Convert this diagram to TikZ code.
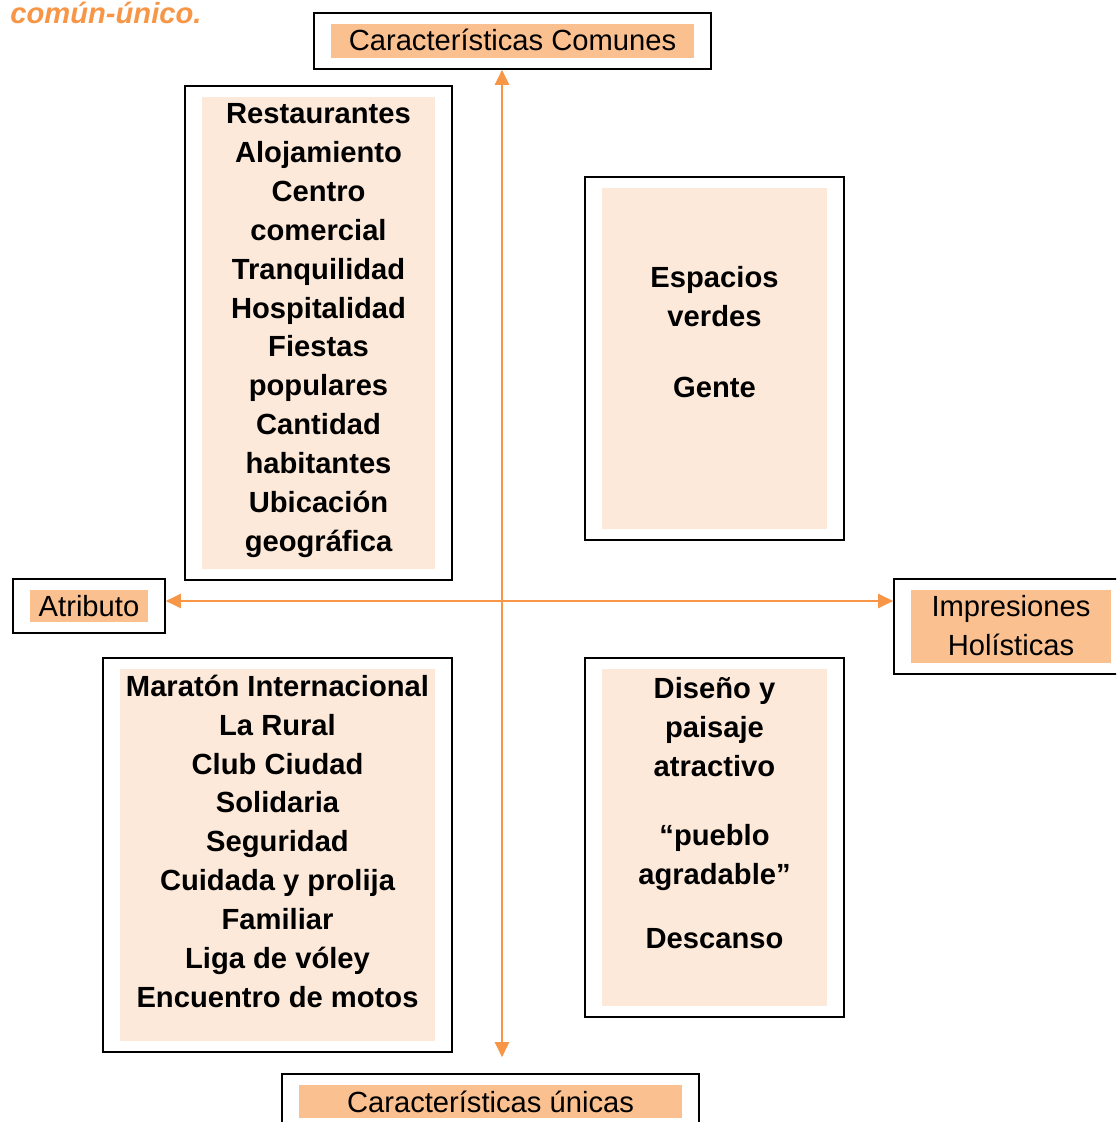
\documentclass[tikz,border=0pt]{standalone}
\usepackage{fontspec}
\setmainfont{Liberation Sans}
\usepackage{tikz}
\usetikzlibrary{arrows.meta,positioning,fit,calc}
\definecolor{tagorange}{HTML}{FAC090}
\definecolor{listpeach}{HTML}{FDE9D9}
\definecolor{axisorange}{HTML}{F79646}

\tikzset{
  frame/.style={draw, line width=1.1pt, inner xsep=0.33cm, inner ysep=0.21cm},
  tagfill/.style={fill=tagorange, inner sep=0pt},
  listfill/.style={fill=listpeach, inner sep=0pt},
  tagtext/.style={font=\fontsize{16.6}{22.1}\selectfont, align=center, inner sep=0pt, anchor=base},
  listtext/.style={font=\bfseries\fontsize{16.6}{22.1}\selectfont, align=center, inner sep=0pt, anchor=base},
  axis/.style={draw=axisorange, line width=1.2pt, {Triangle[length=0.3cm,width=0.28cm]}-{Triangle[length=0.3cm,width=0.28cm]}}
}

\begin{document}
\begin{tikzpicture}[x=0.02cm, y=-0.02cm]
    \useasboundingbox (0,0) rectangle (1116,1122);
    \clip (0,0) rectangle (1116,1122);

    % Heading fragment
    \node[anchor=base west, inner sep=0pt, text=axisorange, font=\bfseries\itshape\fontsize{16.6}{22.1}\selectfont] (title) at (10,24) {común-único.};

    % Axis labels (text nodes sit on the baseline of their last line)
    \node[tagfill, minimum width=7.26cm, minimum height=0.68cm] (comunes-bg) at (512.5,41) {};
    \node[tagtext] (comunes-txt) at (512.5,51) {Características Comunes};
    \node[frame, fit=(comunes-bg)] (comunes) {};

    \node[tagfill, minimum width=2.36cm, minimum height=0.64cm] (atributo-bg) at (89,606) {};
    \node[tagtext] (atributo-txt) at (89,616) {Atributo};
    \node[frame, fit=(atributo-bg)] (atributo) {};

    \node[tagfill, minimum width=4cm, minimum height=1.46cm] (impresiones-bg) at (1011,626.5) {};
    \node[tagtext] (impresiones-txt) at (1011,655) {Impresiones\\Holísticas};
    \node[frame, fit=(impresiones-bg)] (impresiones) {};

    \node[tagfill, minimum width=7.66cm, minimum height=0.66cm] (unicas-bg) at (490.5,1101.5) {};
    \node[tagtext] (unicas-txt) at (490.5,1112) {Características únicas};
    \node[frame, fit=(unicas-bg)] (unicas) {};

    % Upper left: atributo - comun
    \node[listfill, minimum width=4.66cm, minimum height=9.44cm] (ul-bg) at (318.5,333) {};
    \node[listtext] (ul) at (318.5,551) {Restaurantes\\Alojamiento\\Centro\\comercial\\Tranquilidad\\Hospitalidad\\Fiestas\\populares\\Cantidad\\habitantes\\Ubicación\\geográfica};
    \node[frame, fit=(ul-bg)] (ul-box) {};

    % Upper right: holistica - comun
    \node[listfill, minimum width=4.5cm, minimum height=6.82cm] (ur-bg) at (714.5,358.5) {};
    \node[listtext] (ur) at (714.5,397) {Espacios\\verdes\\[0.63cm]Gente};
    \node[frame, fit=(ur-bg)] (ur-box) {};

    % Lower left: atributo - unico
    \node[listfill, minimum width=6.3cm, minimum height=7.44cm] (ll-bg) at (277.5,855) {};
    \node[listtext] (ll) at (277.5,1007) {Maratón Internacional\\La Rural\\Club Ciudad\\Solidaria\\Seguridad\\Cuidada y prolija\\Familiar\\Liga de vóley\\Encuentro de motos};
    \node[frame, fit=(ll-bg)] (ll-box) {};

    % Lower right: holistica - unico
    \node[listfill, minimum width=4.5cm, minimum height=6.74cm] (lr-bg) at (714.5,837.5) {};
    \node[listtext] (lr) at (714.5,948) {Diseño y\\paisaje\\atractivo\\[0.61cm]“pueblo\\agradable”\\[0.5cm]Descanso};
    \node[frame, fit=(lr-bg)] (lr-box) {};

    % Axes
    \coordinate (origin) at (502,601);
    \draw[axis] (comunes.south -| origin) -- ($(unicas.north -| origin)+(0,-16)$);
    \draw[axis] (atributo.east |- origin) -- (impresiones.west |- origin);
\end{tikzpicture}
\end{document}
